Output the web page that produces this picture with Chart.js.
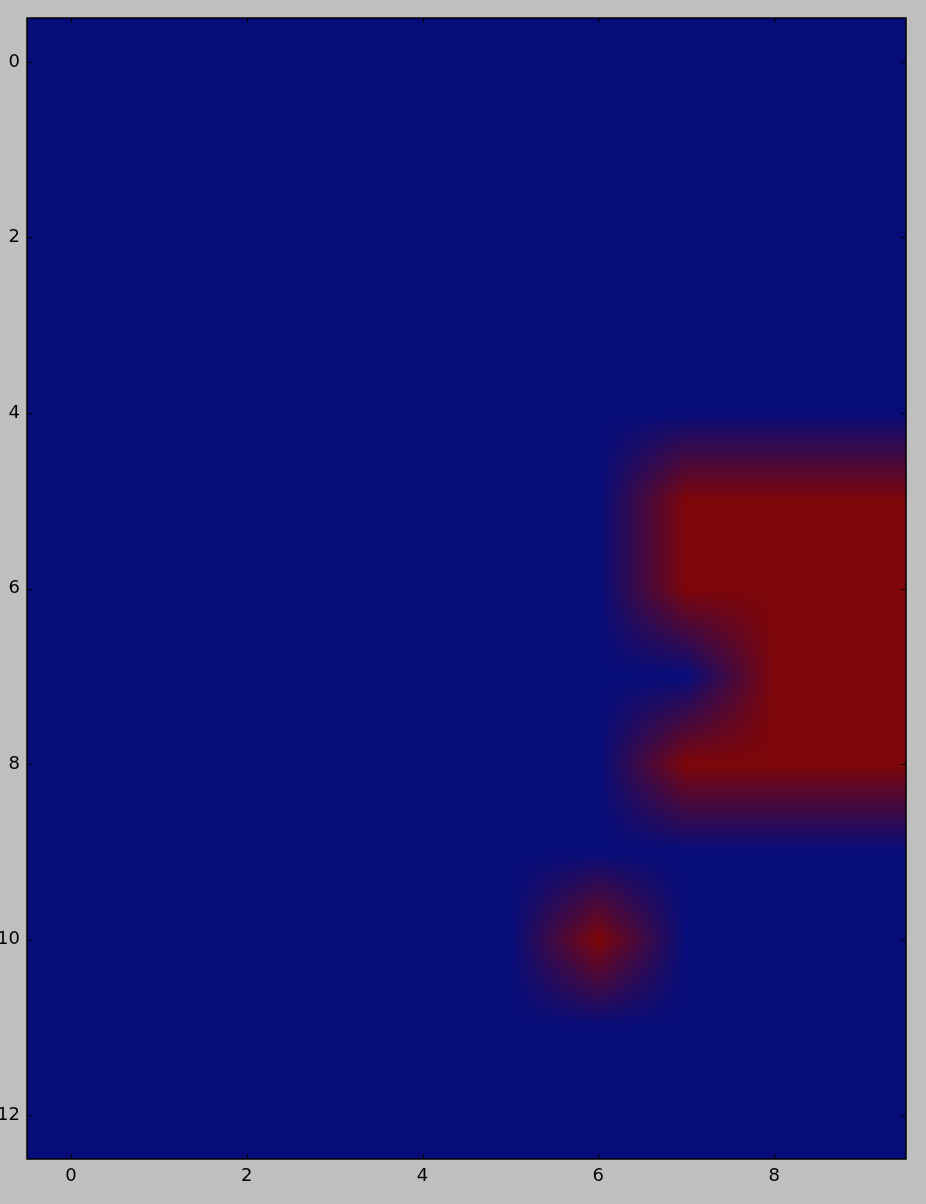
<!DOCTYPE html>
<html>
<head>
<meta charset="utf-8">
<style>
  html, body { margin: 0; padding: 0; background: #bfbfbf; }
  #wrap { width: 926px; height: 1204px; }
</style>
<script src="https://cdn.jsdelivr.net/npm/chart.js@4/dist/chart.umd.min.js"></script>
</head>
<body>
<div id="wrap"><canvas id="heatChart" width="926" height="1204"></canvas></div>
<script>
// grid values, one array per image row (0 = blue, 1 = red)
const row0  = [0, 0, 0, 0, 0, 0, 0, 0, 0, 0];
const row1  = [0, 0, 0, 0, 0, 0, 0, 0, 0, 0];
const row2  = [0, 0, 0, 0, 0, 0, 0, 0, 0, 0];
const row3  = [0, 0, 0, 0, 0, 0, 0, 0, 0, 0];
const row4  = [0, 0, 0, 0, 0, 0, 0, 0, 0, 0];
const row5  = [0, 0, 0, 0, 0, 0, 0, 1, 1, 1];
const row6  = [0, 0, 0, 0, 0, 0, 0, 1, 1, 1];
const row7  = [0, 0, 0, 0, 0, 0, 0, 0, 1, 1];
const row8  = [0, 0, 0, 0, 0, 0, 0, 1, 1, 1];
const row9  = [0, 0, 0, 0, 0, 0, 0, 0, 0, 0];
const row10 = [0, 0, 0, 0, 0, 0, 1, 0, 0, 0];
const row11 = [0, 0, 0, 0, 0, 0, 0, 0, 0, 0];
const row12 = [0, 0, 0, 0, 0, 0, 0, 0, 0, 0];
const gridRows = [row0, row1, row2, row3, row4, row5, row6, row7, row8, row9, row10, row11, row12];

const xTicks = [0, 2, 4, 6, 8];
const yTicks = [0, 2, 4, 6, 8, 10, 12];

const lowColor = [6, 13, 122];
const highColor = [126, 6, 9];

// one point per cell, so the scales know the grid
const cellPoints = [];
gridRows.forEach(function (row, r) {
  row.forEach(function (v, c) {
    cellPoints.push({ x: c, y: r, v: v });
  });
});

// bilinear lookup between cell centres, clamped at the edges
function sampleGrid(x, y) {
  const nRows = gridRows.length;
  const nCols = gridRows[0].length;
  x = Math.min(Math.max(x, 0), nCols - 1);
  y = Math.min(Math.max(y, 0), nRows - 1);
  const c0 = Math.min(Math.floor(x), nCols - 2);
  const r0 = Math.min(Math.floor(y), nRows - 2);
  const fx = x - c0;
  const fy = y - r0;
  const a = gridRows[r0][c0], b = gridRows[r0][c0 + 1];
  const c = gridRows[r0 + 1][c0], d = gridRows[r0 + 1][c0 + 1];
  return (a * (1 - fx) + b * fx) * (1 - fy) + (c * (1 - fx) + d * fx) * fy;
}

const backgroundPlugin = {
  id: 'figureBackground',
  beforeDraw(chart) {
    const ctx = chart.ctx;
    ctx.save();
    ctx.fillStyle = '#bfbfbf';
    ctx.fillRect(0, 0, chart.width, chart.height);
    ctx.restore();
  }
};

const imagePlugin = {
  id: 'imageLayer',
  beforeDatasetsDraw(chart) {
    const area = chart.chartArea;
    const xs = chart.scales.x;
    const ys = chart.scales.y;
    const w = Math.round(area.right - area.left);
    const h = Math.round(area.bottom - area.top);
    const off = document.createElement('canvas');
    off.width = w;
    off.height = h;
    const octx = off.getContext('2d');
    const img = octx.createImageData(w, h);
    const xVals = [];
    for (let i = 0; i < w; i++) xVals.push(xs.getValueForPixel(area.left + i + 0.5));
    for (let j = 0; j < h; j++) {
      const yv = ys.getValueForPixel(area.top + j + 0.5);
      for (let i = 0; i < w; i++) {
        const t = sampleGrid(xVals[i], yv);
        const k = (j * w + i) * 4;
        img.data[k] = lowColor[0] + (highColor[0] - lowColor[0]) * t;
        img.data[k + 1] = lowColor[1] + (highColor[1] - lowColor[1]) * t;
        img.data[k + 2] = lowColor[2] + (highColor[2] - lowColor[2]) * t;
        img.data[k + 3] = 255;
      }
    }
    octx.putImageData(img, 0, 0);
    chart.ctx.drawImage(off, Math.round(area.left), Math.round(area.top));
  }
};

// frame and inward ticks on all four sides
const framePlugin = {
  id: 'axesFrame',
  afterDraw(chart) {
    const ctx = chart.ctx;
    const area = chart.chartArea;
    const xs = chart.scales.x;
    const ys = chart.scales.y;
    const len = 5;
    ctx.save();
    ctx.strokeStyle = '#000000';
    ctx.lineWidth = 1;
    ctx.beginPath();
    xTicks.forEach(function (v) {
      const px = Math.round(xs.getPixelForValue(v)) + 0.5;
      ctx.moveTo(px, area.bottom);
      ctx.lineTo(px, area.bottom - len);
      ctx.moveTo(px, area.top);
      ctx.lineTo(px, area.top + len);
    });
    yTicks.forEach(function (v) {
      const py = Math.round(ys.getPixelForValue(v)) + 0.5;
      ctx.moveTo(area.left, py);
      ctx.lineTo(area.left + len, py);
      ctx.moveTo(area.right, py);
      ctx.lineTo(area.right - len, py);
    });
    ctx.stroke();
    ctx.lineWidth = 1.5;
    ctx.strokeRect(area.left, area.top, area.right - area.left, area.bottom - area.top);
    ctx.restore();
  }
};

const ctx = document.getElementById('heatChart').getContext('2d');

const heatChart = new Chart(ctx, {
  type: 'scatter',
  data: {
    datasets: [{
      data: cellPoints,
      pointRadius: 0,
      pointHoverRadius: 0,
      showLine: false
    }]
  },
  options: {
    responsive: false,
    animation: false,
    events: [],
    layout: {
      padding: { top: 18, right: 20, left: 0, bottom: 0 }
    },
    scales: {
      x: {
        type: 'linear',
        min: -0.5,
        max: 9.5,
        grid: { display: false, drawTicks: false },
        border: { display: false },
        afterBuildTicks: function (scale) {
          scale.ticks = xTicks.map(function (v) { return { value: v }; });
        },
        afterFit: function (scale) {
          scale.height = 45;
        },
        ticks: {
          color: '#000000',
          padding: 7,
          maxRotation: 0,
          font: { family: 'DejaVu Sans', size: 18 }
        }
      },
      y: {
        type: 'linear',
        reverse: true,
        min: -0.5,
        max: 12.5,
        grid: { display: false, drawTicks: false },
        border: { display: false },
        afterBuildTicks: function (scale) {
          scale.ticks = yTicks.map(function (v) { return { value: v }; });
        },
        afterFit: function (scale) {
          scale.width = 27;
        },
        ticks: {
          color: '#000000',
          padding: 7,
          font: { family: 'DejaVu Sans', size: 18 }
        }
      }
    },
    plugins: {
      legend: { display: false },
      tooltip: { enabled: false }
    }
  },
  plugins: [backgroundPlugin, imagePlugin, framePlugin]
});
</script>
</body>
</html>
